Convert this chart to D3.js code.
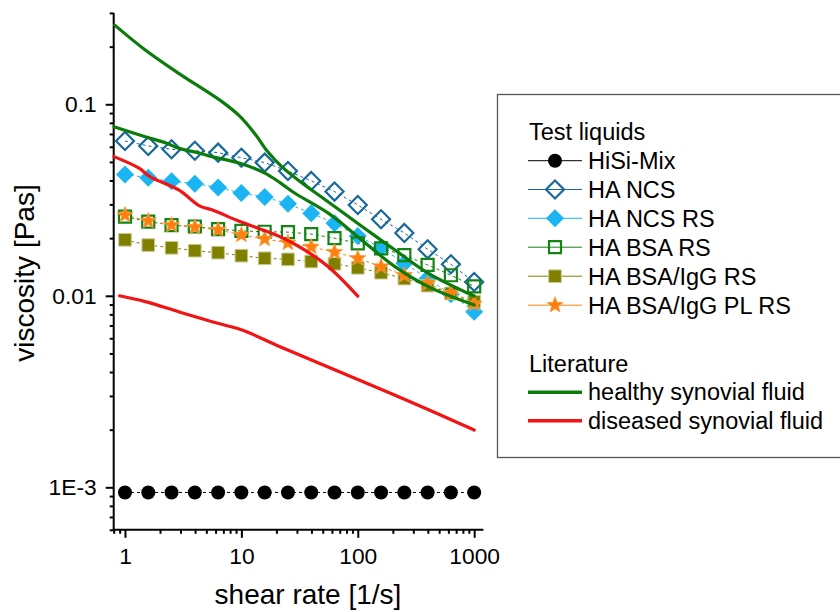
<!DOCTYPE html>
<html><head><meta charset="utf-8">
<script src="https://cdn.jsdelivr.net/npm/d3@7"></script>
<style>
body{margin:0;background:#fff}
svg{display:block}
text{font-family:Arial,"Liberation Sans",Helvetica,sans-serif;fill:#000}
</style>
</head><body>
<svg id="chart" width="840" height="612"></svg>
<script>
// ---------------- data ----------------
const shearRates = [1, 1.585, 2.512, 3.981, 6.31, 10, 15.85, 25.12, 39.81, 63.1, 100, 158.5, 251.2, 398.1, 631, 1000];

const hisiMix     = [0.00094, 0.00094, 0.00094, 0.00094, 0.00094, 0.00094, 0.00094, 0.00094, 0.00094, 0.00094, 0.00094, 0.00094, 0.00094, 0.00094, 0.00094, 0.00094];
const haNcs       = [0.0643, 0.0606, 0.0582, 0.0572, 0.0559, 0.0526, 0.0496, 0.0448, 0.0398, 0.0350, 0.0298, 0.0251, 0.0213, 0.0175, 0.0146, 0.0118];
const haNcsRs     = [0.0430, 0.0413, 0.0396, 0.0385, 0.0368, 0.0344, 0.0328, 0.0302, 0.0270, 0.0239, 0.0205, 0.0178, 0.0148, 0.0123, 0.0102, 0.00826];
const haBsaRs     = [0.0259, 0.0244, 0.0234, 0.0230, 0.0223, 0.0218, 0.0216, 0.0215, 0.0210, 0.0200, 0.0188, 0.0177, 0.0163, 0.0145, 0.0128, 0.0112];
const haBsaIggRs  = [0.0196, 0.0184, 0.0178, 0.0172, 0.0168, 0.0162, 0.0157, 0.0155, 0.0151, 0.0147, 0.0140, 0.0132, 0.0123, 0.0113, 0.0103, 0.00932];
const haBsaIggPlRs= [0.0264, 0.0246, 0.0234, 0.0228, 0.0221, 0.0208, 0.0198, 0.0189, 0.0180, 0.0169, 0.0157, 0.0142, 0.0128, 0.0116, 0.0103, 0.00908];

// literature curves: [shear rate, viscosity]
const healthyHighX = [0.816, 1.494, 2.893, 6.81, 9.72, 13.09, 16.93, 22.33, 31.88, 55.5, 108.7, 208.7, 401, 1000];
const healthyHighY = [0.259, 0.192, 0.145, 0.1032, 0.0864, 0.0700, 0.0563, 0.0471, 0.0395, 0.0310, 0.0230, 0.01734, 0.01315, 0.00997];
const healthyLowX  = [0.804, 1.494, 2.281, 2.893, 4.41, 5.59, 9.72, 16.05, 21.46, 28.87, 55.8, 108, 208.7, 403.5, 1000];
const healthyLowY  = [0.0764, 0.0677, 0.0626, 0.0589, 0.0555, 0.0533, 0.0492, 0.0436, 0.0390, 0.0343, 0.0270, 0.01956, 0.01419, 0.01116, 0.00895];
const diseasedHighX = [0.804, 1.311, 1.64, 2.893, 4.41, 5.59, 9.72, 20.92, 33.2, 55.8, 100];
const diseasedHighY = [0.0533, 0.0465, 0.0419, 0.0357, 0.0294, 0.0281, 0.0244, 0.0205, 0.0177, 0.01419, 0.00997];
const diseasedLowX  = [0.9, 1.494, 2.893, 5.59, 10.12, 21.46, 70.3, 263, 1000];
const diseasedLowY  = [0.0100, 0.00932, 0.00826, 0.00732, 0.00663, 0.00542, 0.0040, 0.00285, 0.00199];

const xTickValues = [1, 10, 100, 1000];
const xTickLabels = ["1", "10", "100", "1000"];
const yTickValues = [0.001, 0.01, 0.1];
const yTickLabels = ["1E-3", "0.01", "0.1"];

const seriesNames  = ["HiSi-Mix", "HA NCS", "HA NCS RS", "HA BSA RS", "HA BSA/IgG RS", "HA BSA/IgG PL RS"];
const seriesValues = [hisiMix, haNcs, haNcsRs, haBsaRs, haBsaIggRs, haBsaIggPlRs];
const literatureNames = ["healthy synovial fluid", "diseased synovial fluid"];

// ---------------- styles ----------------
const seriesStyle = [
  {shape:"circle",  color:"#000000", fill:"#000000"},
  {shape:"diamond", color:"#16699a", fill:"none"},
  {shape:"diamond", color:"#1ab5f2", fill:"#1ab5f2"},
  {shape:"square",  color:"#148414", fill:"none"},
  {shape:"square",  color:"#808000", fill:"#808000"},
  {shape:"star",    color:"#ff7f0f", fill:"#ff7f0f"}
];
const green = "#0b7b0b", red = "#f01414";

const svg = d3.select("#chart");
const x = d3.scaleLog().domain([0.8, 1200]).range([113.7, 483.4]);
const y = d3.scaleLog().domain([0.0006, 0.3]).range([529.8, 12.9]);

// ---------------- marker paths ----------------
function markerPath(shape, s) {
  const p = d3.path();
  if (shape === "circle") { p.arc(0, 0, s, 0, 2 * Math.PI); p.closePath(); }
  else if (shape === "diamond") { p.moveTo(0, -s); p.lineTo(s, 0); p.lineTo(0, s); p.lineTo(-s, 0); p.closePath(); }
  else if (shape === "square") { p.rect(-s, -s, 2 * s, 2 * s); }
  else if (shape === "star") {
    for (let i = 0; i < 10; i++) {
      const r = i % 2 === 0 ? s : s * 0.42;
      const a = -Math.PI / 2 + i * Math.PI / 5;
      const px = r * Math.cos(a), py = r * Math.sin(a);
      if (i === 0) p.moveTo(px, py); else p.lineTo(px, py);
    }
    p.closePath();
  }
  return p.toString();
}
function markerSize(i) { return [7, 9, 9, 6, 6.3, 8.5][i]; }
function drawMarker(g, i, cx, cy) {
  const st = seriesStyle[i];
  const el = g.append("path").attr("d", markerPath(st.shape, markerSize(i)))
    .attr("transform", `translate(${cx},${cy})`);
  if (st.fill === "none") {
    el.attr("fill", "#fff").attr("fill-opacity", 0).attr("stroke", st.color).attr("stroke-width", 2.2);
  } else {
    el.attr("fill", st.fill);
    if (i === 4) el.attr("stroke", "#c9c98c").attr("stroke-width", 1);
    if (i === 5) el.attr("stroke", "#f5a040").attr("stroke-width", 0.8);
  }
}

// ---------------- axes ----------------
const minorX = x.ticks().filter(v => !xTickValues.some(t => Math.abs(t - v) < 1e-9));
const minorY = y.ticks().filter(v => !yTickValues.some(t => Math.abs(t / v - 1) < 1e-6));

const gx = svg.append("g").attr("transform", "translate(0,529.8)");
gx.call(d3.axisBottom(x).tickValues(minorX).tickSize(4).tickSizeOuter(0).tickFormat(""));
gx.call(g => g.select(".domain").remove());
const gx2 = svg.append("g").attr("transform", "translate(0,529.8)");
gx2.call(d3.axisBottom(x).tickValues(xTickValues).tickSize(8).tickSizeOuter(0).tickPadding(10)
  .tickFormat((d, i) => xTickLabels[i]));
gx2.select(".domain").remove();

const gy = svg.append("g").attr("transform", "translate(113.7,0)");
gy.call(d3.axisLeft(y).tickValues(minorY).tickSize(4).tickSizeOuter(0).tickFormat(""));
gy.select(".domain").remove();
const gy2 = svg.append("g").attr("transform", "translate(113.7,0)");
gy2.call(d3.axisLeft(y).tickValues(yTickValues).tickSize(8).tickSizeOuter(0).tickPadding(9)
  .tickFormat((d, i) => yTickLabels[i]));
gy2.select(".domain").remove();

svg.selectAll(".tick line").attr("stroke", "#000").attr("stroke-width", 2);
svg.selectAll(".tick text").attr("font-size", 22.8).attr("font-family", "Arial, 'Liberation Sans', sans-serif").attr("fill", "#000");

// axis lines
svg.append("line").attr("x1", 113.7).attr("x2", 113.7).attr("y1", y.range()[1]).attr("y2", 530.8)
  .attr("stroke", "#000").attr("stroke-width", 2);
svg.append("line").attr("x1", 112.7).attr("x2", x.range()[1]).attr("y1", 529.8).attr("y2", 529.8)
  .attr("stroke", "#000").attr("stroke-width", 2);

// axis titles
svg.append("text").attr("x", 308).attr("y", 604).attr("text-anchor", "middle")
  .attr("font-size", 28).text("shear rate [1/s]");
svg.append("text").attr("transform", "translate(34,273) rotate(-90)").attr("text-anchor", "middle")
  .attr("font-size", 28).text("viscosity [Pas]");

// ---------------- series ----------------
const plot = svg.append("g");
const lineGen = d3.line().x(d => x(d[0])).y(d => y(d[1]));
seriesValues.forEach((vals, i) => {
  const pts = shearRates.map((s, k) => [s, vals[k]]);
  plot.append("path").attr("d", lineGen(pts)).attr("fill", "none")
    .attr("stroke", seriesStyle[i].color).attr("stroke-width", 1).attr("stroke-dasharray", "3,3");
});
seriesValues.forEach((vals, i) => {
  shearRates.forEach((s, k) => drawMarker(plot, i, x(s), y(vals[k])));
});

// literature curves
const curveGen = d3.line().x(d => x(d[0])).y(d => y(d[1])).curve(d3.curveCatmullRom.alpha(0.5));
function litCurve(xs, ys, color) {
  plot.append("path").attr("d", curveGen(xs.map((v, k) => [v, ys[k]])))
    .attr("fill", "none").attr("stroke", color).attr("stroke-width", 3.2).attr("stroke-linecap", "round");
}
litCurve(healthyHighX, healthyHighY, green);
litCurve(healthyLowX, healthyLowY, green);
litCurve(diseasedHighX, diseasedHighY, red);
litCurve(diseasedLowX, diseasedLowY, red);

// ---------------- legend ----------------
const lg = svg.append("g");
lg.append("rect").attr("x", 497.5).attr("y", 94.5).attr("width", 360).attr("height", 363)
  .attr("fill", "#fff").attr("stroke", "#555").attr("stroke-width", 1.3);
const lfs = 23.5;
lg.append("text").attr("x", 529).attr("y", 140).attr("font-size", lfs).text("Test liquids");
const rowY = [160.7, 189.5, 218.3, 247.2, 276.2, 305.2];
seriesNames.forEach((name, i) => {
  const cy = rowY[i];
  lg.append("line").attr("x1", 528).attr("x2", 582).attr("y1", cy).attr("y2", cy)
    .attr("stroke", seriesStyle[i].color).attr("stroke-width", 1);
  drawMarker(lg, i, 555, cy);
  lg.append("text").attr("x", 588).attr("y", cy + 8.5).attr("font-size", lfs).text(name);
});
lg.append("text").attr("x", 529).attr("y", 371.7).attr("font-size", lfs).text("Literature");
const litRowY = [392.3, 420.8];
[green, red].forEach((c, i) => {
  lg.append("line").attr("x1", 528).attr("x2", 582).attr("y1", litRowY[i]).attr("y2", litRowY[i])
    .attr("stroke", c).attr("stroke-width", 3.4);
  lg.append("text").attr("x", 588).attr("y", litRowY[i] + 7.8).attr("font-size", lfs).text(literatureNames[i]);
});
</script>
</body></html>
